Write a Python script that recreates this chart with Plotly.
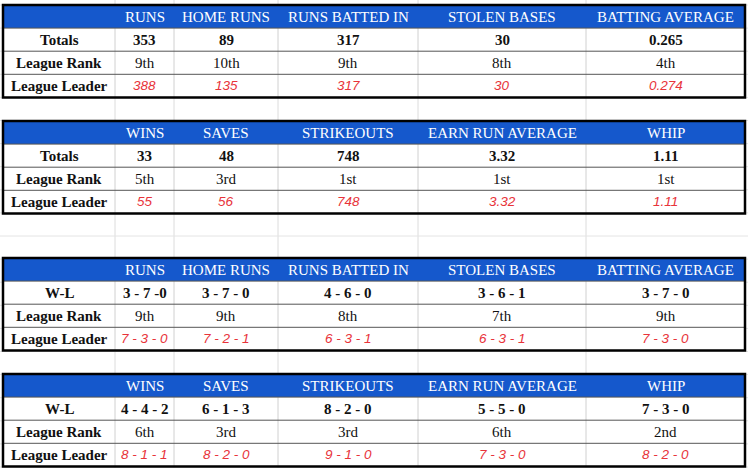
import plotly.graph_objects as go

bat_cols = ["RUNS", "HOME RUNS", "RUNS BATTED IN", "STOLEN BASES", "BATTING AVERAGE"]
pit_cols = ["WINS", "SAVES", "STRIKEOUTS", "EARN RUN AVERAGE", "WHIP"]

t1_totals = ["353", "89", "317", "30", "0.265"]
t1_rank = ["9th", "10th", "9th", "8th", "4th"]
t1_leader = ["388", "135", "317", "30", "0.274"]

t2_totals = ["33", "48", "748", "3.32", "1.11"]
t2_rank = ["5th", "3rd", "1st", "1st", "1st"]
t2_leader = ["55", "56", "748", "3.32", "1.11"]

t3_wl = ["3 - 7 -0", "3 - 7 - 0", "4 - 6 - 0", "3 - 6 - 1", "3 - 7 - 0"]
t3_rank = ["9th", "9th", "8th", "7th", "9th"]
t3_leader = ["7 - 3 - 0", "7 - 2 - 1", "6 - 3 - 1", "6 - 3 - 1", "7 - 3 - 0"]

t4_wl = ["4 - 4 - 2", "6 - 1 - 3", "8 - 2 - 0", "5 - 5 - 0", "7 - 3 - 0"]
t4_rank = ["6th", "3rd", "3rd", "6th", "2nd"]
t4_leader = ["8 - 1 - 1", "8 - 2 - 0", "9 - 1 - 0", "7 - 3 - 0", "8 - 2 - 0"]

tables = [
    (5, bat_cols, ["Totals", "League Rank", "League Leader"], [t1_totals, t1_rank, t1_leader]),
    (121, pit_cols, ["Totals", "League Rank", "League Leader"], [t2_totals, t2_rank, t2_leader]),
    (258, bat_cols, ["W-L", "League Rank", "League Leader"], [t3_wl, t3_rank, t3_leader]),
    (374, pit_cols, ["W-L", "League Rank", "League Leader"], [t4_wl, t4_rank, t4_leader]),
]

xb = [3, 115, 174, 278, 418, 586, 745]
RH = 23.1
SERIF = "Liberation Serif"

shapes, ann = [], []
for x in xb[1:-1]:
    shapes.append(dict(type="line", x0=x, x1=x, y0=0, y1=468, line=dict(color="#dcdcdc", width=1), layer="below"))
for y in [5 + RH * k for k in range(-1, 21)]:
    shapes.append(dict(type="line", x0=0, x1=748, y0=y, y1=y, line=dict(color="#e4e4e4", width=1), layer="below"))

for top, cols, labels, rows in tables:
    bot = top + 4 * RH
    shapes.append(dict(type="rect", x0=xb[0], x1=xb[-1], y0=top, y1=bot, fillcolor="white", line=dict(width=0), layer="below"))
    shapes.append(dict(type="rect", x0=xb[0], x1=xb[-1], y0=top, y1=top + RH, fillcolor="#1558cc", line=dict(width=0)))
    for x in xb[1:-1]:
        shapes.append(dict(type="line", x0=x, x1=x, y0=top + RH, y1=bot, line=dict(color="#d0d0d0", width=1)))
    for k in (1, 2, 3):
        shapes.append(dict(type="line", x0=xb[0], x1=xb[-1], y0=top + k * RH, y1=top + k * RH, line=dict(color="#555", width=1)))
    shapes.append(dict(type="rect", x0=xb[0], x1=xb[-1], y0=top, y1=bot, line=dict(color="black", width=2.5)))
    for j, c in enumerate(cols):
        ann.append(dict(x=(xb[j + 1] + xb[j + 2]) / 2, y=top + RH / 2, text=c, showarrow=False,
                        font=dict(family=SERIF, size=15, color="white")))
    for i, lab in enumerate(labels):
        yc = top + (i + 1.5) * RH
        ann.append(dict(x=(xb[0] + xb[1]) / 2, y=yc, text="<b>%s</b>" % lab, showarrow=False,
                        font=dict(family=SERIF, size=15, color="#111")))
        for j, v in enumerate(rows[i]):
            xc = (xb[j + 1] + xb[j + 2]) / 2
            if i == 0:
                ann.append(dict(x=xc, y=yc, text="<b>%s</b>" % v, showarrow=False,
                                font=dict(family=SERIF, size=15, color="#111")))
            elif i == 1:
                ann.append(dict(x=xc, y=yc, text=v, showarrow=False,
                                font=dict(family=SERIF, size=15, color="#111")))
            else:
                ann.append(dict(x=xc, y=yc, text="<i>%s</i>" % v, showarrow=False,
                                font=dict(family="Liberation Sans", size=13.5, color="#e8333a")))

fig = go.Figure()
fig.update_layout(
    width=748, height=468, margin=dict(l=0, r=0, t=0, b=0),
    paper_bgcolor="white", plot_bgcolor="white",
    xaxis=dict(range=[0, 748], visible=False, fixedrange=True),
    yaxis=dict(range=[468, 0], visible=False, fixedrange=True),
    shapes=shapes, annotations=ann, showlegend=False,
)
fig.write_html("out.html", config={"displayModeBar": False},
               post_script="document.body.style.margin='0';document.body.style.overflow='hidden';")
